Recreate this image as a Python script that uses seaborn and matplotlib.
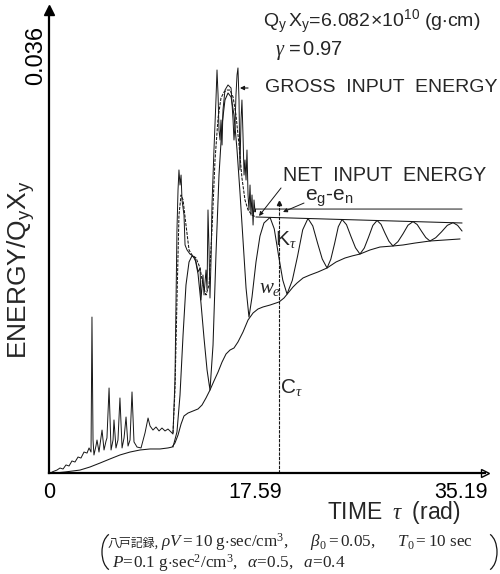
import numpy as np
import pandas as pd
import matplotlib
matplotlib.use("Agg")
import matplotlib.pyplot as plt
from matplotlib import transforms
from matplotlib.patches import Arc
import seaborn as sns

# ---- energy histories (time tau in rad, energy / QyXy in units of 1e-3) ----
gross_tau = [0.26, 0.68, 0.94, 1.20, 1.45, 1.71, 1.96, 2.22, 2.48, 2.73,
             2.99, 3.25, 3.42, 3.59, 3.67, 3.76, 3.84, 4.01, 4.10, 4.27,
             4.53, 4.70, 4.87, 4.95, 5.13, 5.30, 5.47, 5.55, 5.72, 5.89,
             6.06, 6.24, 6.41, 6.58, 6.75, 6.92, 7.09, 7.26, 7.52, 7.86,
             8.20, 8.46, 8.63, 8.88, 9.14, 9.40, 9.65, 9.91, 10.16, 10.42,
             10.59, 10.76, 10.85, 10.93, 11.02, 11.10, 11.19, 11.28, 11.36, 11.53,
             11.62, 11.79, 12.04, 12.30, 12.56, 12.73, 12.90, 12.98, 13.15, 13.24,
             13.41, 13.50, 13.58, 13.67, 13.75, 13.84, 13.92, 14.09, 14.26, 14.35,
             14.44, 14.52, 14.61, 14.69, 14.78, 14.86, 15.03, 15.29, 15.55, 15.72,
             15.80, 15.89, 15.97, 16.06, 16.14, 16.23, 16.31, 16.40, 16.48, 16.57,
             16.66, 16.74, 16.83, 16.91, 17.00, 17.08, 17.17, 17.25, 17.34, 17.43,
             17.51, 17.60, 17.64, 35.28]
gross_e = [0.09, 0.26, 0.44, 0.35, 0.71, 0.62, 1.06, 0.97, 1.41, 1.32,
           1.85, 1.76, 2.21, 1.85, 13.76, 2.91, 1.59, 2.38, 2.91, 1.85,
           3.79, 2.03, 2.82, 3.09, 7.50, 2.03, 2.91, 4.68, 2.21, 2.91,
           6.62, 2.21, 3.09, 4.94, 2.38, 2.91, 7.15, 2.74, 2.29, 2.21,
           3.53, 4.85, 4.15, 3.79, 4.06, 3.71, 3.97, 3.71, 3.88, 3.62,
           3.44, 8.21, 15.26, 21.44, 24.97, 26.74, 25.41, 26.29, 24.09, 22.76,
           20.12, 19.68, 19.32, 19.15, 18.62, 17.74, 18.09, 15.26, 17.47, 15.71,
           17.91, 16.15, 23.21, 19.68, 15.44, 18.79, 23.65, 28.50, 32.91, 35.56,
           33.35, 30.26, 29.38, 31.15, 28.94, 32.03, 33.79, 34.24, 33.97, 31.15,
           29.38, 30.71, 33.35, 35.12, 35.74, 32.91, 26.74, 31.15, 32.91, 29.82,
           26.29, 27.62, 25.85, 28.50, 24.53, 23.21, 25.41, 22.76, 24.53, 21.88,
           24.09, 23.03, 23.29, 23.29]

net_tau = [10.59, 10.76, 10.93, 11.10, 11.28, 11.45, 11.70, 11.96, 12.21, 12.56,
           12.90, 13.15, 13.41, 13.67, 13.92, 14.18, 14.44, 14.69, 14.95, 15.20,
           15.46, 15.72, 15.97, 16.23, 16.48, 16.74, 17.00, 17.34, 17.68, 35.28]
net_e = [3.53, 7.32, 15.26, 22.76, 24.53, 24.09, 21.88, 19.68, 19.24, 18.97,
         18.09, 16.59, 15.71, 16.59, 21.44, 27.62, 31.32, 33.09, 33.62, 33.79,
         33.79, 33.18, 31.59, 28.94, 26.03, 24.09, 23.21, 22.76, 22.59, 22.06]

# damping energy + strain energy (C + We)
strain_tau = [10.59, 10.93, 11.19, 11.45, 11.70, 11.96, 12.21, 12.47, 12.73, 12.98,
              13.24, 13.50, 13.75, 14.01, 14.26, 14.52, 14.78, 15.03, 15.29, 15.55,
              15.80, 16.06, 16.31, 16.57, 16.83, 17.08, 17.34, 17.68, 18.02, 18.36,
              18.88, 19.24, 19.61, 19.97, 20.33, 20.78, 21.23, 21.67, 22.12, 22.53,
              22.94, 23.34, 23.75, 24.07, 24.39, 24.71, 25.03, 25.41, 25.80, 26.18,
              26.56, 26.93, 27.29, 27.66, 28.02, 28.36, 28.70, 29.04, 29.38, 29.81,
              30.24, 30.66, 31.09, 31.45, 31.82, 32.18, 32.54, 33.03, 33.53, 34.02,
              34.51, 34.90, 35.28]
strain_e = [2.29, 3.62, 6.88, 12.18, 16.59, 18.62, 19.15, 18.97, 17.56, 15.00,
            11.91, 9.09, 7.32, 11.29, 19.24, 26.29, 30.71, 32.91, 33.53, 33.18,
            31.59, 28.50, 24.79, 20.56, 16.32, 13.76, 15.53, 18.62, 20.91, 22.06,
            22.55, 21.54, 19.17, 17.01, 15.79, 16.99, 19.13, 21.46, 22.46, 21.80,
            20.28, 18.88, 18.09, 18.86, 20.23, 21.73, 22.37, 21.91, 20.85, 19.87,
            19.32, 19.85, 20.80, 21.84, 22.28, 21.94, 21.16, 20.44, 20.03, 20.42,
            21.11, 21.86, 22.18, 21.92, 21.33, 20.78, 20.47, 20.76, 21.28, 21.85,
            22.09, 21.85, 21.35]

# cumulative damping energy C
damp_tau = [0.51, 1.37, 2.65, 3.50, 4.36, 5.21, 6.06, 6.92, 7.77, 8.63,
            9.48, 10.16, 10.51, 10.76, 11.02, 11.28, 11.53, 11.87, 12.30, 12.73,
            13.07, 13.41, 13.75, 14.09, 14.44, 14.78, 15.12, 15.46, 15.80, 16.14,
            16.57, 17.00, 17.43, 17.85, 18.28, 18.88, 19.65, 20.07, 20.42, 20.84,
            21.18, 21.70, 22.29, 22.98, 23.75, 24.52, 25.28, 25.88, 26.56, 27.42,
            28.27, 29.38, 30.24, 31.26, 32.54, 33.82, 35.11]
damp_e = [0.00, 0.09, 0.26, 0.53, 0.88, 1.24, 1.59, 1.85, 2.03, 2.12,
          2.12, 2.21, 2.29, 2.65, 3.35, 4.32, 5.03, 5.29, 5.47, 5.65,
          6.00, 6.62, 7.32, 8.12, 8.91, 9.79, 10.50, 10.85, 11.03, 11.56,
          12.44, 13.50, 14.12, 14.47, 14.65, 14.82, 15.09, 15.44, 15.88, 16.41,
          16.76, 17.21, 17.47, 17.74, 18.09, 18.62, 18.97, 19.15, 19.32, 19.68,
          19.94, 20.03, 20.12, 20.29, 20.47, 20.56, 20.65]

x_ticks = [0, 17.59, 35.19]
x_tick_labels = ["0", "17.59", "35.19"]
y_ticks = [0.036]
y_tick_labels = ["0.036"]
tau_mark = 19.65          # instant used for the energy decomposition

# ---- style ----
sns.set_theme(style="white")
plt.rcParams.update({
    "font.family": ["Liberation Sans", "DejaVu Sans"],
    "mathtext.fontset": "custom",
    "mathtext.rm": "Liberation Serif",
    "mathtext.it": "Liberation Serif:italic",
    "mathtext.bf": "Liberation Serif:bold",
    "axes.linewidth": 1.6,
    "axes.edgecolor": "black",
})

W, H = 500, 574
fig = plt.figure(figsize=(W / 100, H / 100), dpi=100)
fig.patch.set_facecolor("white")


def fx(px):
    return px / W


def fy(py):
    return 1 - py / H


ax = fig.add_axes([fx(49), 101 / H, 436 / W, 463 / H])
ax.set_facecolor("white")
ax.set_xlim(0, 37.24)
ax.set_ylim(0, 0.040853)

ink = "#161616"
lw = 0.75

sns.lineplot(x=damp_tau, y=np.array(damp_e) * 1e-3, ax=ax, color=ink, lw=lw,
             sort=False, estimator=None)
sns.lineplot(x=strain_tau, y=np.array(strain_e) * 1e-3, ax=ax, color=ink, lw=lw,
             sort=False, estimator=None)

net = pd.DataFrame({"tau": net_tau, "e": np.array(net_e) * 1e-3})
during = net[net["tau"] <= 17.68]
after = net[net["tau"] >= 17.68]
sns.lineplot(data=during, x="tau", y="e", ax=ax, color=ink, lw=lw,
             sort=False, estimator=None, linestyle=(0, (3, 1.2)))
sns.lineplot(data=after, x="tau", y="e", ax=ax, color=ink, lw=lw,
             sort=False, estimator=None)
sns.lineplot(x=gross_tau, y=np.array(gross_e) * 1e-3, ax=ax, color=ink, lw=0.7,
             sort=False, estimator=None)

# decomposition line at tau_mark
ax.plot([tau_mark, tau_mark], [0, 23.8e-3], color=ink, lw=0.8,
        linestyle=(0, (3, 1)))
ax.plot(tau_mark, 23.8e-3, marker="^", ms=3, color=ink)

# leaders
ax.annotate("", xy=(16.31, 33.97e-3), xytext=(17.0, 33.97e-3),
            arrowprops=dict(arrowstyle="-|>", lw=0.8, color=ink,
                            mutation_scale=6, shrinkA=0, shrinkB=0))
ax.annotate("", xy=(17.94, 22.68e-3), xytext=(19.82, 25.15e-3),
            arrowprops=dict(arrowstyle="-|>", lw=0.7, color=ink,
                            mutation_scale=6, shrinkA=0, shrinkB=0))
ax.annotate("", xy=(19.99, 23.03e-3), xytext=(21.78, 23.82e-3),
            arrowprops=dict(arrowstyle="-|>", lw=0.7, color=ink,
                            mutation_scale=6, shrinkA=0, shrinkB=0))

# axes decoration
sns.despine(ax=ax, top=True, right=True)
ax.plot(0, 1, marker="^", ms=7, color="black", transform=ax.transAxes,
        clip_on=False)
ax.plot(1, 0, marker=">", ms=6, mfc="white", mec="black", mew=1.0,
        transform=ax.transAxes, clip_on=False)

ax.set_xticks(x_ticks, labels=x_tick_labels)
ax.set_yticks(y_ticks, labels=y_tick_labels, rotation=90, va="center")
ax.tick_params(axis="x", direction="in", length=7, width=1.0, pad=6.5,
               labelsize=15.5, colors="black")
ax.tick_params(axis="y", direction="in", length=6.5, width=1.0, pad=1.5,
               labelsize=17, colors="black")
for lab in ax.get_yticklabels():
    lab.set_transform(lab.get_transform()
                      + transforms.ScaledTranslation(0, 0.10, fig.dpi_scale_trans))
ax.set_xlabel("")
ax.set_ylabel("")

# texts
fig.text(fx(263), fy(22), r"$\mathregular{Q_y\,X_y\!=\!6.082\!\times\!10^{10}\ (g{\cdot}cm)}$",
         fontsize=14, va="center", ha="left")
fig.text(fx(275), fy(50), r"$\gamma\,\mathregular{=0.97}$",
         fontsize=14.5, va="center", ha="left")
fig.text(fx(265), fy(88), "GROSS  INPUT  ENERGY", fontsize=14,
         va="center", ha="left")
fig.text(fx(283), fy(176), "NET  INPUT  ENERGY", fontsize=14.2,
         va="center", ha="left")
fig.text(fx(305), fy(198), r"$\mathregular{e_g}$-$\mathregular{e_n}$",
         fontsize=15, va="center", ha="left")
fig.text(fx(286), fy(240), r"$\mathregular{K}_\tau$", fontsize=15,
         va="center", ha="center")
fig.text(fx(270), fy(288), r"$w_e$", fontsize=15, va="center", ha="center")
fig.text(fx(291), fy(388), r"$\mathregular{C}_\tau$", fontsize=15,
         va="center", ha="center")
fig.text(fx(394), fy(513), r"$\mathregular{TIME}\ \ \tau\ \ \mathregular{(rad)}$",
         fontsize=16.5, va="center", ha="center")
fig.text(fx(21), fy(270), r"$\mathregular{ENERGY/Q_yX_y}$", fontsize=19,
         va="center", ha="center", rotation=90)

# caption
fig.text(fx(158), fy(547), "八戸記録,", fontsize=8.6, ha="right", va="baseline",
         family=["Noto Sans CJK JP", "DejaVu Sans"])
fig.text(fx(161), fy(547),
         r"$\rho V = 10\ \mathrm{g{\cdot}sec/cm^3},\quad\ \ \beta_0 = 0.05,\quad\ \ T_0 = 10\ \mathrm{sec}$",
         fontsize=12.3, ha="left", va="baseline")
fig.text(fx(112), fy(568),
         r"$P\!=\!0.1\ \mathrm{g{\cdot}sec^2/cm^3},\ \ \alpha\!=\!0.5,\ \ a\!=\!0.4$",
         fontsize=12.3, ha="left", va="baseline")
fig.add_artist(Arc((fx(113), fy(552)), 22 / W, 38 / H, theta1=105, theta2=255,
                   transform=fig.transFigure, color=ink, lw=0.9))
fig.add_artist(Arc((fx(486), fy(552)), 22 / W, 38 / H, theta1=-75, theta2=75,
                   transform=fig.transFigure, color=ink, lw=0.9))

fig.savefig("out.png", dpi=100, facecolor="white")
